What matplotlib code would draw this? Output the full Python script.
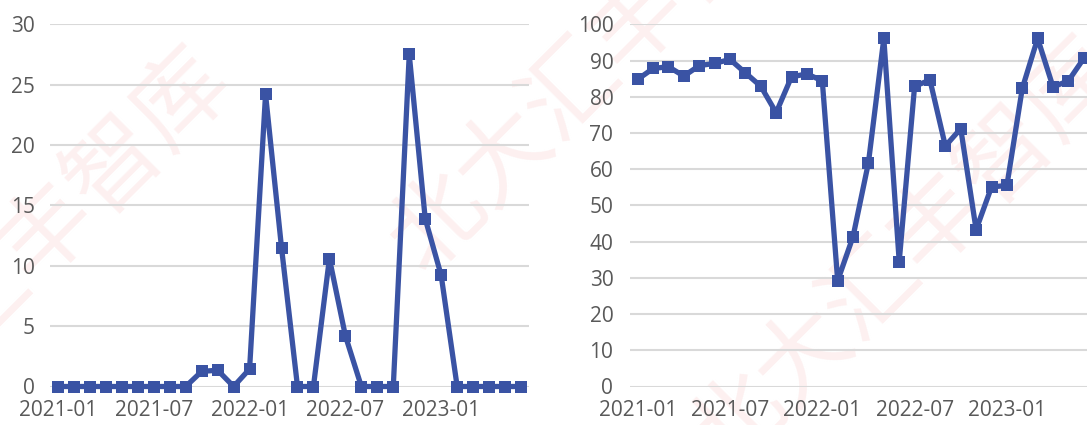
import matplotlib
matplotlib.use('Agg')
import matplotlib.pyplot as plt

plt.rcParams['font.family'] = ['Open Sans', 'Noto Sans CJK SC', 'DejaVu Sans']

months = ['2021-01', '2021-02', '2021-03', '2021-04', '2021-05', '2021-06',
          '2021-07', '2021-08', '2021-09', '2021-10', '2021-11', '2021-12',
          '2022-01', '2022-02', '2022-03', '2022-04', '2022-05', '2022-06',
          '2022-07', '2022-08', '2022-09', '2022-10', '2022-11', '2022-12',
          '2023-01', '2023-02', '2023-03', '2023-04', '2023-05', '2023-06']

left_values = [0, 0, 0, 0, 0, 0, 0, 0, 0, 1.25, 1.35, 0,
               1.45, 24.2, 11.5, 0, 0, 10.6, 4.2, 0, 0, 0, 27.5, 13.9,
               9.2, 0, 0, 0, 0, 0]

right_values = [84.8, 87.8, 88.3, 85.7, 88.6, 89.2, 90.3, 86.6, 82.9, 75.6, 85.5, 86.3,
                84.4, 29.2, 41.4, 61.8, 96.1, 34.5, 82.9, 84.6, 66.4, 71.2, 43.3, 55.1,
                55.5, 82.3, 96.1, 82.7, 84.4, 90.6]

tick_labels = ['2021-01', '2021-07', '2022-01', '2022-07', '2023-01']
tick_pos = [0, 6, 12, 18, 24]

watermark = '北大汇丰智库'

line_color = '#3a53a4'
grid_color = '#d9d9d9'
text_color = '#595959'

W, H = 1087, 425
fig = plt.figure(figsize=(W / 100, H / 100), dpi=100)

# faint diagonal watermark behind everything
for wx, wy in [(0.014, 0.376), (0.833, 0.40), (0.557, 0.87)]:
    fig.text(wx, wy, watermark, fontsize=68, rotation=45, color='#fdf0f0',
             family=['Noto Sans CJK SC'], ha='center', va='center', zorder=-1)

y_top = (H - 24.3) / H
y_bot = (H - 386.5) / H

ax1 = fig.add_axes([50 / W, y_bot, 479 / W, y_top - y_bot])
ax2 = fig.add_axes([630 / W, y_bot, 461.5 / W, y_top - y_bot])

for ax, vals, ymax, step, pad in [(ax1, left_values, 30, 5, 11), (ax2, right_values, 100, 10, 12)]:
    ax.patch.set_alpha(0)
    x = list(range(len(vals)))
    ax.plot(x, vals, color=line_color, linewidth=3.8, marker='s', markersize=9,
            markeredgewidth=0, zorder=3, clip_on=False)
    ax.set_xlim(-0.5, len(vals) - 0.5)
    ax.set_ylim(0, ymax)
    ax.set_yticks(range(0, ymax + 1, step))
    ax.set_xticks(tick_pos)
    ax.set_xticklabels(tick_labels)
    ax.yaxis.grid(True, color=grid_color, linewidth=1.5)
    ax.set_axisbelow(True)
    for s in ax.spines.values():
        s.set_visible(False)
    ax.tick_params(axis='both', length=0, labelsize=15, labelcolor=text_color)
    ax.tick_params(axis='y', pad=pad)
    ax.tick_params(axis='x', pad=10)

fig.savefig('out.png', dpi=100)
